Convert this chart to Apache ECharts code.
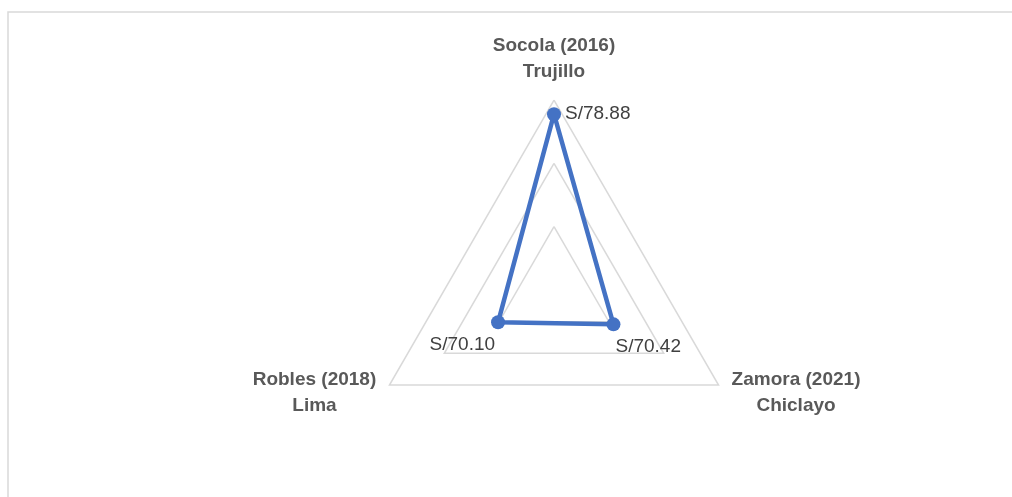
<!DOCTYPE html>
<html>
<head>
<meta charset="utf-8">
<script src="https://cdn.jsdelivr.net/npm/echarts@6/dist/echarts.min.js"></script>
<style>
html,body{margin:0;padding:0;background:#fff;}
#chart{width:1012px;height:497px;}
</style>
</head>
<body>
<div id="chart"></div>
<script>
// Data
const indicatorNames = ['Socola (2016)\nTrujillo', 'Robles (2018)\nLima', 'Zamora (2021)\nChiclayo'];
const seriesValues = [78.88, 70.10, 70.42];
const axisMin = 65;
const axisMax = 80;

const nameFont = 'bold 19px "Liberation Sans", Arial, sans-serif';
const cv = document.createElement('canvas').getContext('2d');
cv.font = nameFont;
function lineWidthOf(name) {
  return Math.ceil(Math.max.apply(null, name.split('\n').map(l => cv.measureText(l).width)));
}

const rich = {};
indicatorNames.forEach((n, i) => {
  rich['n' + i] = {
    width: lineWidthOf(n), align: 'center', fontSize: 19, fontWeight: 'bold',
    color: '#595959', lineHeight: 26, fontFamily: '"Liberation Sans", Arial, sans-serif'
  };
});

const chart = echarts.init(document.getElementById('chart'));
const CX = 554, CY = 290;
chart.setOption({
  animation: false,
  backgroundColor: '#ffffff',
  graphic: [{
    type: 'rect', silent: true,
    shape: { x: 8, y: 12, width: 1100, height: 600 },
    style: { fill: 'none', stroke: '#d9d9d9', lineWidth: 1.5 }
  }],
  radar: {
    center: [CX, CY],
    radius: 190,
    startAngle: 90,
    shape: 'polygon',
    splitNumber: 3,
    nameGap: 15,
    indicator: indicatorNames.map(n => ({ name: n, min: axisMin, max: axisMax })),
    axisName: {
      formatter: function (name) {
        const i = indicatorNames.indexOf(name);
        return name.split('\n').map(l => '{n' + i + '|' + l + '}').join('\n');
      },
      rich: rich
    },
    axisLine: { show: false },
    axisTick: { show: false },
    axisLabel: { show: false },
    splitArea: { show: false },
    splitLine: { lineStyle: { color: '#d9d9d9', width: 1.5 } }
  },
  series: [{
    type: 'radar',
    symbol: 'circle',
    symbolSize: 14,
    itemStyle: { color: '#4472C4' },
    lineStyle: { color: '#4472C4', width: 4.5 },
    label: {
      show: true,
      position: 'right',
      distance: 4,
      fontSize: 19,
      color: '#404040',
      fontFamily: '"Liberation Sans", Arial, sans-serif',
      formatter: p => 'S/' + Number(p.value).toFixed(2)
    },
    labelLayout: function (p) {
      const px = p.rect.x + p.rect.width / 2;
      const py = p.rect.y + p.rect.height / 2;
      if (py > CY) {
        if (px < CX) {
          return { dx: -p.labelRect.width - 14, dy: 22 };
        }
        return { dx: -9, dy: 22 };
      }
      return {};
    },
    data: [{ value: seriesValues, name: 'Precio' }]
  }]
});
</script>
</body>
</html>
